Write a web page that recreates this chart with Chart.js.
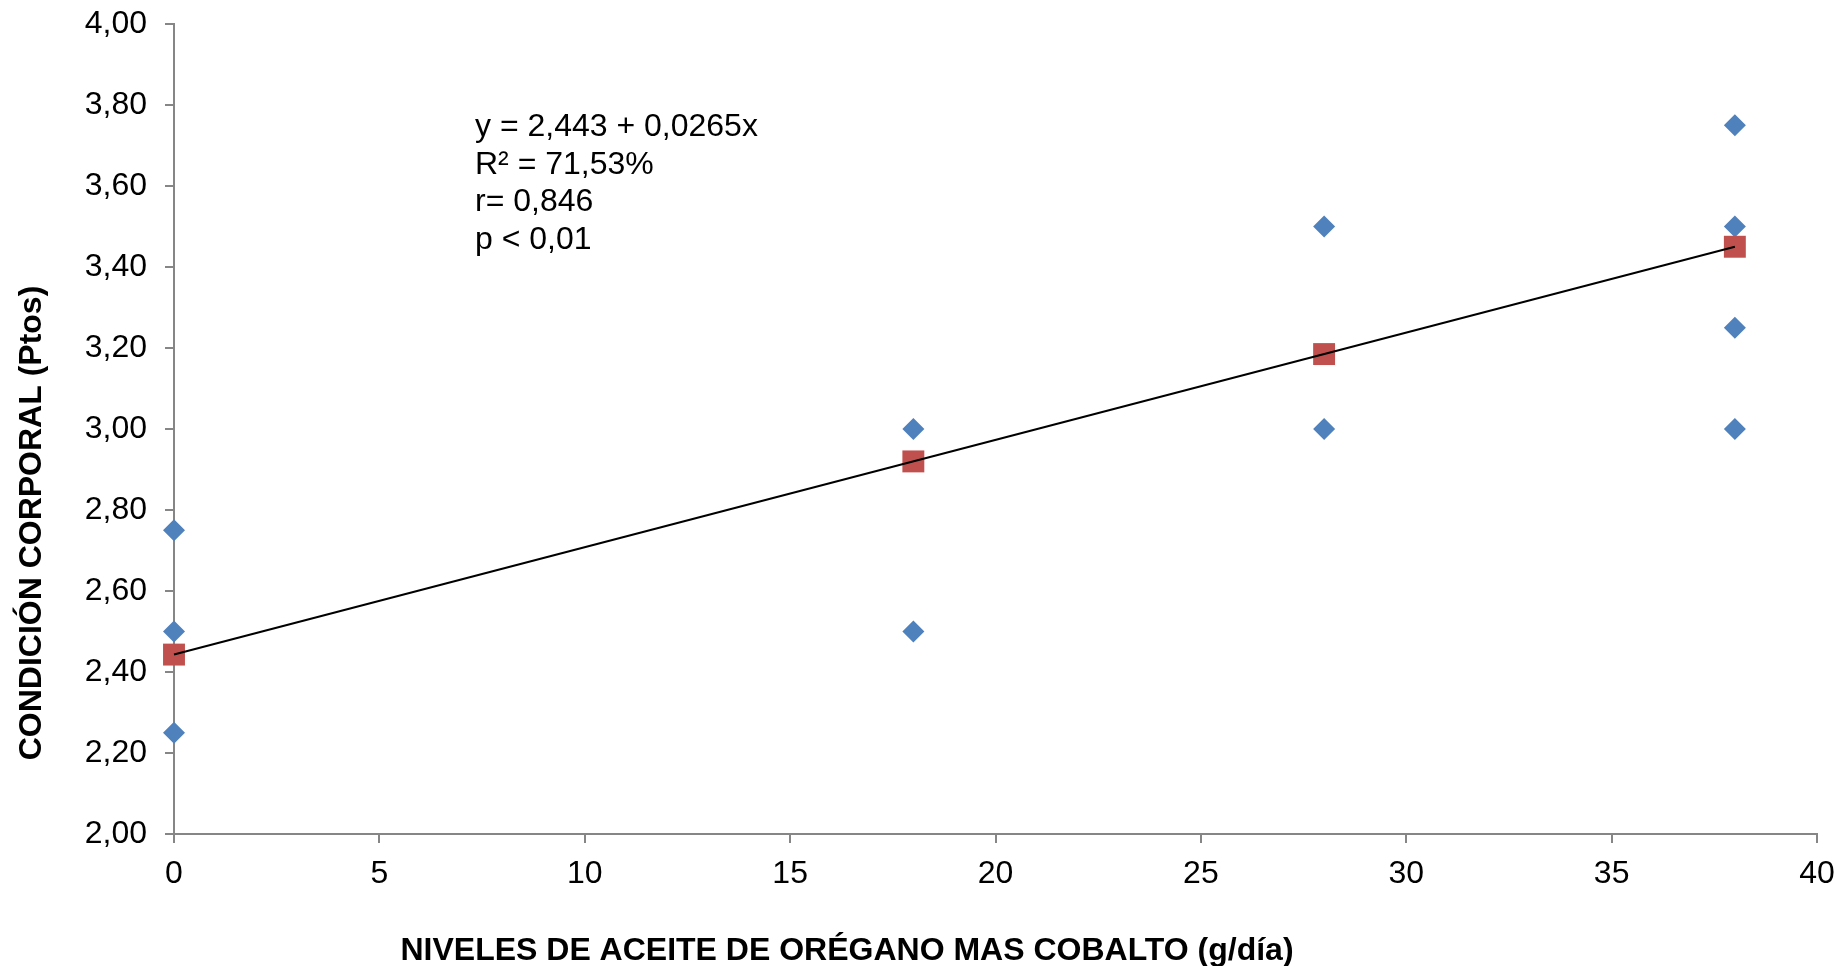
<!DOCTYPE html>
<html>
<head>
<meta charset="utf-8">
<script src="https://cdn.jsdelivr.net/npm/chart.js@4/dist/chart.umd.min.js"></script>
<style>
  html, body { margin: 0; padding: 0; background: #fff; }
  #wrap { width: 1845px; height: 966px; }
</style>
</head>
<body>
<div id="wrap"><canvas id="grafico"></canvas></div>
<script>
// datos observados (g/dia, puntos)
var nivelesObs = [0, 0, 0, 18, 18, 28, 28, 38, 38, 38, 38];
var condicionObs = [2.75, 2.50, 2.25, 3.00, 2.50, 3.50, 3.00, 3.75, 3.50, 3.25, 3.00];
// valores estimados por la regresion
var nivelesEst = [0, 18, 28, 38];
var condicionEst = [2.443, 2.92, 3.185, 3.45];
// recta de tendencia
var rectaX = [0, 38];
var rectaY = [2.443, 3.45];
var textoEcuacion = ["y = 2,443 + 0,0265x", "R² = 71,53%", "r= 0,846", "p < 0,01"];
var tituloX = "NIVELES DE ACEITE DE ORÉGANO MAS COBALTO (g/día)";
var tituloY = "CONDICIÓN CORPORAL (Ptos)";

function puntos(xs, ys) {
    return xs.map(function (x, i) { return { x: x, y: ys[i] } })
}

var fuente = "'Liberation Sans', Arial, sans-serif";

var textos = {
    id: "textos",
    afterDraw: function (chart) {
        var ctx = chart.ctx;
        ctx.save();
        ctx.fillStyle = "#000";
        ctx.font = "32px " + fuente;
        ctx.textBaseline = "alphabetic";
        ctx.textAlign = "left";
        textoEcuacion.forEach(function (t, i) {
            ctx.fillText(t, 475, 136 + i * 37.5);
        });
        ctx.font = "bold 32px " + fuente;
        ctx.textAlign = "center";
        ctx.fillText(tituloX, 847, 960);
        ctx.translate(41, 523);
        ctx.rotate(-Math.PI / 2);
        ctx.fillText(tituloY, 0, 0);
        ctx.restore();
    }
};

var ejeGris = "#868686";

new Chart(document.getElementById("grafico"), {
    type: "scatter",
    data: {
        datasets: [{
            type: "line",
            data: puntos(rectaX, rectaY),
            borderColor: "#000",
            borderWidth: 2,
            pointRadius: 0,
            fill: false,
            clip: false,
            order: 0
        }, {
            data: puntos(nivelesEst, condicionEst),
            backgroundColor: "#C0504D",
            borderColor: "#C0504D",
            pointStyle: "rect",
            pointRadius: 15.5,
            borderWidth: 0,
            clip: false,
            order: 1
        }, {
            data: puntos(nivelesObs, condicionObs),
            backgroundColor: "#4F81BD",
            borderColor: "#4F81BD",
            pointStyle: "rectRot",
            pointRadius: 11,
            borderWidth: 0,
            clip: false,
            order: 2
        }]
    },
    options: {
        responsive: true,
        maintainAspectRatio: false,
        animation: false,
        events: [],
        layout: { padding: { top: 24, right: 28, left: 0, bottom: 0 } },
        plugins: { legend: { display: false }, tooltip: { enabled: false } },
        scales: {
            x: {
                type: "linear",
                min: 0, max: 40,
                ticks: { stepSize: 5, color: "#000", font: { family: fuente, size: 32 }, padding: 12 },
                grid: { drawOnChartArea: false, color: ejeGris, tickLength: 9, lineWidth: 2 },
                border: { color: ejeGris, width: 2 },
                afterFit: function (s) {
                    s.height = 132;
                    s.paddingLeft = 0;
                    s.paddingRight = 0;
                }
            },
            y: {
                min: 2, max: 4,
                ticks: {
                    stepSize: 0.2, color: "#000", font: { family: fuente, size: 32 }, padding: 18,
                    callback: function (v) { return v.toFixed(2).replace(".", ","); }
                },
                grid: { drawOnChartArea: false, color: ejeGris, tickLength: 9, lineWidth: 2 },
                border: { color: ejeGris, width: 2 },
                afterFit: function (s) {
                    s.width = 174;
                    s.paddingTop = 0;
                    s.paddingBottom = 0;
                }
            }
        }
    },
    plugins: [textos]
});
</script>
</body>
</html>
